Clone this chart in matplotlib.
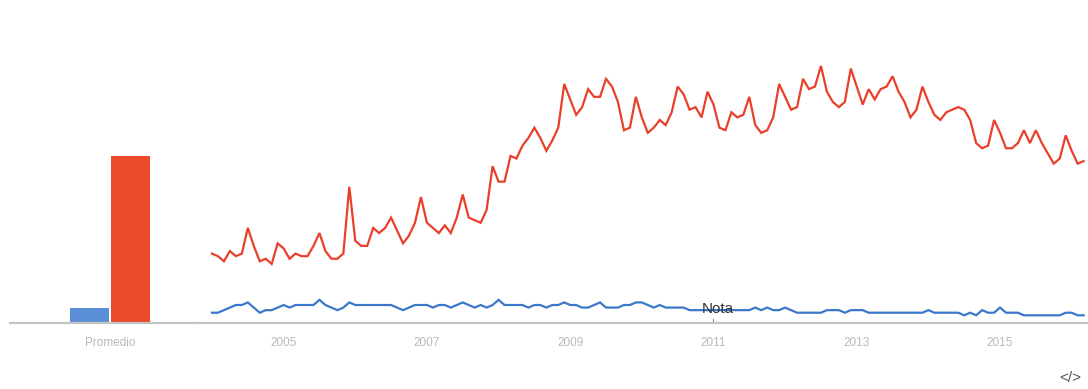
import matplotlib
matplotlib.use("Agg")
import matplotlib.pyplot as plt
import numpy as np

# ---------------------------------------------------------------------------
# Data (monthly interest, Jan 2004 .. Mar 2016, scaled 0-100)
# ---------------------------------------------------------------------------

red_series = [
    27, 26, 24, 28, 26, 27, 37, 30, 24, 25, 23, 31, 29, 25, 27, 26, 26, 30,
    35, 28, 25, 25, 27, 53, 32, 30, 30, 37, 35, 37,
    41, 36, 31, 34, 39, 49, 39, 37, 35, 38, 35, 41, 50, 41, 40, 39, 44, 61,
    55, 55, 65, 64, 69, 72, 76, 72, 67, 71,
    76, 93, 87, 81, 84, 91, 88, 88, 95, 92, 86, 75, 76, 88, 80, 74, 76, 79,
    77, 82, 92, 89, 83, 84, 80, 90, 85, 76, 75,
    82, 80, 81, 88, 77, 74, 75, 80, 93, 88, 83, 84, 95, 91, 92, 100, 90, 86,
    84, 86, 99, 92, 85, 91, 87, 91, 92, 96, 90,
    86, 80, 83, 92, 86, 81, 79, 82, 83, 84, 83, 79, 70, 68, 69, 79, 74, 68,
    68, 70, 75, 70, 75, 70, 66, 62, 64, 73, 67, 62, 63,
]

blue_series = [
    4, 4, 5, 6, 7, 7, 8, 6, 4, 5, 5, 6, 7, 6, 7, 7, 7, 7, 9, 7, 6, 5, 6, 8,
    7, 7, 7, 7, 7, 7, 7, 6, 5, 6, 7, 7, 7, 6, 7, 7, 6, 7, 8, 7, 6, 7, 6, 7,
    9, 7, 7, 7, 7, 6, 7, 7, 6, 7, 7, 8, 7, 7, 6, 6, 7, 8, 6, 6, 6, 7, 7, 8,
    8, 7, 6, 7, 6, 6, 6, 6, 5, 5, 5, 5, 5, 5, 5, 5, 5, 5, 5, 6, 5, 6, 5, 5,
    6, 5, 4, 4, 4, 4, 4, 5, 5, 5, 4, 5, 5, 5, 4, 4, 4, 4, 4, 4, 4, 4, 4, 4,
    5, 4, 4, 4, 4, 4, 3, 4, 3, 5, 4, 4, 6, 4, 4, 4, 3, 3, 3, 3, 3, 3, 3, 4,
    4, 3, 3,
]

averages = [6, 65]           # blue, red
avg_label = "Promedio"

year_ticks = [2005, 2007, 2009, 2011, 2013, 2015]
start_year = 2004

note_month = 84              # Jan 2011
note_text = "Nota"

BLUE_LINE = "#3b78c9"
BLUE_BAR = "#5a8fd8"
RED_LINE = "#e8402a"
RED_BAR = "#eb4a2c"
AXIS_GRAY = "#c4c4c4"
TICK_GRAY = "#b8b8b8"

plt.rcParams["font.family"] = ["Liberation Sans", "DejaVu Sans"]

# ---------------------------------------------------------------------------
# Layout in pixels (figure is 1088 x 389)
# ---------------------------------------------------------------------------

W, H = 1088, 389
baseline_px = 323           # y of the axis line from the top
top_px = 40
px_per_unit = 2.57          # pixels per interest point

fig = plt.figure(figsize=(W / 100, H / 100), dpi=100)
fig.patch.set_facecolor("white")

bottom = (H - baseline_px) / H
height = (baseline_px - top_px) / H
ymax = (baseline_px - top_px) / px_per_unit

# bar panel
bar_left, bar_right = 10, 196
ax_bar = fig.add_axes([bar_left / W, bottom, (bar_right - bar_left) / W, height])
# line panel
line_left = 196
ax = fig.add_axes([line_left / W, bottom, (W - line_left) / W, height])

# --- bars ---
bar_step = 41.0
bar_center0 = 89.5
ax_bar.bar([0, 1], averages, width=0.95, color=[BLUE_BAR, RED_BAR])
ax_bar.set_xlim((bar_left - bar_center0) / bar_step,
                (bar_right - bar_center0) / bar_step)
ax_bar.set_ylim(0, ymax)
ax_bar.set_xticks([0.5])
ax_bar.set_xticklabels([avg_label])

# --- lines ---
months = np.arange(len(red_series))
px_per_month = 5.97
first_px = 212
ax.plot(months, blue_series, color=BLUE_LINE, linewidth=1.6,
        solid_joinstyle="miter")
ax.plot(months, red_series, color=RED_LINE, linewidth=1.6,
        solid_joinstyle="miter")
ax.set_xlim((line_left - first_px) / px_per_month,
            (W - first_px) / px_per_month)
ax.set_ylim(0, ymax)
ax.set_xticks([(y - start_year) * 12 for y in year_ticks])
ax.set_xticklabels([str(y) for y in year_ticks])

# note marker
ax.plot([note_month, note_month], [0, 1.6], color="#888888", linewidth=0.8)
ax.text(note_month + 0.7, 5.5, note_text, ha="center", va="center",
        fontsize=11, color="#333333")

for a in (ax_bar, ax):
    a.set_facecolor("none")
    for s in ("top", "right", "left"):
        a.spines[s].set_visible(False)
    a.spines["bottom"].set_color(AXIS_GRAY)
    a.spines["bottom"].set_linewidth(1.6)
    a.set_yticks([])
    a.tick_params(axis="x", length=0, pad=10, labelsize=8.5,
                  labelcolor=TICK_GRAY)

fig.text(1070 / W, 1 - 378 / H, "</>", ha="center", va="center",
         fontsize=11, color="#555555")

fig.savefig("out.png", dpi=100)
